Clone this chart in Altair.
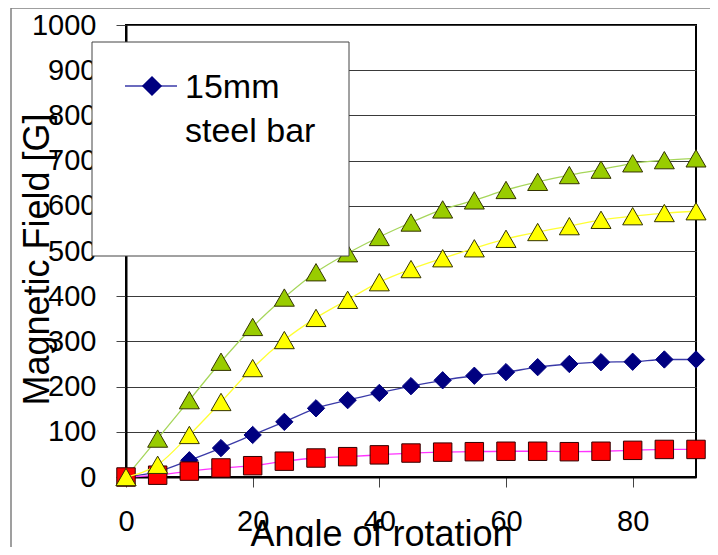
import altair as alt
import pandas as pd

angles = [0, 5, 10, 15, 20, 25, 30, 35, 40, 45, 50, 55, 60, 65, 70, 75, 80, 85, 90]
green_vals = [0, 85, 170, 255, 332, 397, 453, 495, 531, 563, 592, 612, 635, 653, 668, 680, 694, 701, 705]
yellow_vals = [0, 27, 93, 166, 241, 303, 352, 392, 431, 460, 484, 506, 527, 542, 555, 569, 577, 584, 588]
blue_vals = [0, 12, 37, 64, 93, 122, 152, 170, 186, 201, 214, 224, 232, 243, 250, 254, 255, 260, 260]
red_vals = [0, 4, 13, 20, 25, 35, 42, 45, 49, 53, 55, 56, 57, 57, 56, 57, 59, 61, 61]

x_ticks = [0, 20, 40, 60, 80]
y_ticks = [0, 100, 200, 300, 400, 500, 600, 700, 800, 900, 1000]

FONT = "Liberation Sans"

rows = []
for name, vals in [("green", green_vals), ("yellow", yellow_vals), ("blue", blue_vals), ("red", red_vals)]:
    for a, v in zip(angles, vals):
        rows.append({"series": name, "angle": a, "field": v})
df = pd.DataFrame(rows)

xscale = alt.Scale(domain=[0, 90], nice=False, zero=False)
yscale = alt.Scale(domain=[0, 1000], nice=False)

xaxis = alt.Axis(
    values=x_ticks, title="Angle of rotation", grid=False, format="d",
    labelFont=FONT, labelFontSize=29, labelColor="black", labelPadding=20,
    labelFlush=False, tickSize=10, tickColor="#444444",
    domainColor="black", domainWidth=2,
    titleFont=FONT, titleFontSize=36, titleFontWeight="normal", titleColor="black",
    titleX=255, titleY=68, titleAlign="center", titleBaseline="alphabetic",
)
yaxis = alt.Axis(
    values=y_ticks, title="Magnetic Field [G]", grid=True, format="d",
    gridColor="#3a3a3a", gridWidth=1,
    labelFont=FONT, labelFontSize=29, labelColor="black", labelPadding=20,
    labelFlush=False, tickSize=10, tickColor="#444444",
    domainColor="black", domainWidth=2,
    titleFont=FONT, titleFontSize=36, titleFontWeight="normal", titleColor="black",
    titleAngle=270, titleX=-78, titleY=234, titleAlign="center", titleBaseline="alphabetic",
)

X = alt.X("angle:Q", scale=xscale, axis=xaxis)
Y = alt.Y("field:Q", scale=yscale, axis=yaxis)

base = alt.Chart(df)


def series_layers(name, line_color, fill, shape, size, stroke):
    d = base.transform_filter(alt.datum.series == name)
    line = d.mark_line(color=line_color, strokeWidth=1.3, interpolate="monotone").encode(x=X, y=Y)
    pts = d.mark_point(shape=shape, size=size, filled=True, fill=fill, stroke=stroke,
                       strokeWidth=1, opacity=1).encode(x=X, y=Y)
    return [line, pts]


layers = []
layers += series_layers("green", "#a6d65a", "#99cc00", "triangle-up", 400, "#333300")
layers += series_layers("blue", "#3a3aa8", "#000080", "diamond", 300, "#000080")
layers += series_layers("red", "#ff33ff", "#ff0000", "square", 340, "#330000")
layers += series_layers("yellow", "#ffff33", "#ffff00", "triangle-up", 400, "#333300")

one = alt.Data(values=[{}])

# outer chart-area frame
frame = alt.Chart(one).mark_rect(fill=None, stroke="#808080", strokeWidth=1.5).encode(
    x=alt.value(-115), x2=alt.value(700), y=alt.value(-17), y2=alt.value(600))

# legend box
leg_box = alt.Chart(one).mark_rect(fill="white", stroke="#444444", strokeWidth=1).encode(
    x=alt.value(-34), x2=alt.value(223), y=alt.value(17), y2=alt.value(231))
leg_line = alt.Chart(one).mark_rule(color="#3a3aa8", strokeWidth=1.3).encode(
    x=alt.value(-1), x2=alt.value(51), y=alt.value(61))
leg_pt = alt.Chart(one).mark_point(shape="diamond", size=300, filled=True, fill="#000080",
                                   stroke="#000080", opacity=1).encode(
    x=alt.value(26), y=alt.value(61))
leg_t1 = alt.Chart(one).mark_text(text="15mm", font=FONT, fontSize=34, align="left",
                                  baseline="alphabetic", color="black").encode(
    x=alt.value(59), y=alt.value(73))
leg_t2 = alt.Chart(one).mark_text(text="steel bar", font=FONT, fontSize=34, align="left",
                                  baseline="alphabetic", color="black").encode(
    x=alt.value(59), y=alt.value(117))

chart = alt.layer(frame, *layers, leg_box, leg_line, leg_pt, leg_t1, leg_t2).properties(
    width=570, height=452,
    padding={"left": 118, "top": 17, "right": 14, "bottom": 70},
    autosize=alt.AutoSizeParams(type="none"),
    background="white",
).configure_view(stroke="black", strokeWidth=2)

chart.save("out.html", embed_options={"renderer": "svg", "actions": False})
